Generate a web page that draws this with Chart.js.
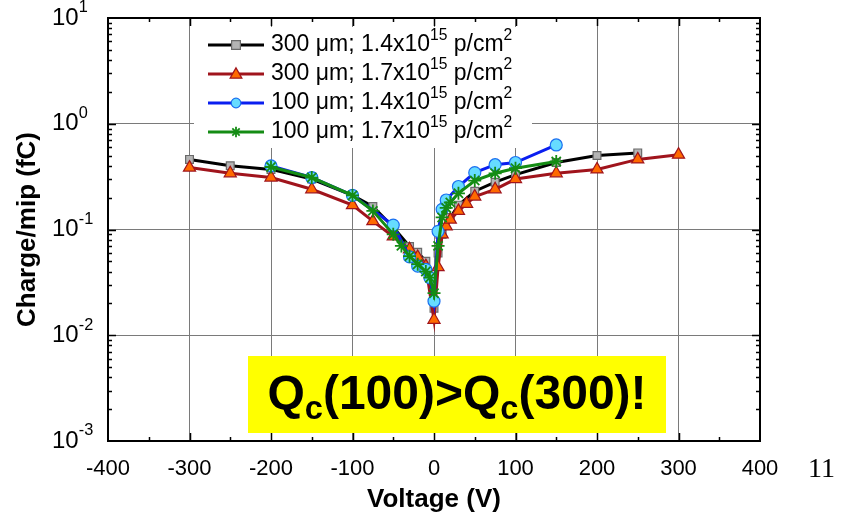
<!DOCTYPE html>
<html>
<head>
<meta charset="utf-8">
<script src="https://cdn.jsdelivr.net/npm/chart.js@4.4.1/dist/chart.umd.min.js"></script>
<style>
  html, body { margin: 0; padding: 0; background: #fff; }
  #wrap { width: 845px; height: 526px; position: relative; }
</style>
</head>
<body>
<div id="wrap"><canvas id="chart"></canvas></div>
<script>
// Charge per mip vs bias voltage
const thickness = [300, 300, 100, 100];
const fluence = ['1.4', '1.7', '1.4', '1.7'];
const seriesLabels = ['300 μm; 1.4x10¹⁵ p/cm²', '300 μm; 1.7x10¹⁵ p/cm²', '100 μm; 1.4x10¹⁵ p/cm²', '100 μm; 1.7x10¹⁵ p/cm²'];

const vBlack = [-300, -250, -200, -150, -100, -75, -50, -30, -20, -10, 0, 5, 10, 20, 30, 50, 75, 100, 150, 200, 250];
const qBlack = [0.46, 0.40, 0.37, 0.30, 0.21, 0.165, 0.105, 0.069, 0.061, 0.05, 0.018, 0.06, 0.09, 0.13, 0.17, 0.23, 0.28, 0.33, 0.43, 0.50, 0.53];

const vRed = [-300, -250, -200, -150, -100, -75, -50, -30, -20, -10, 0, 5, 10, 15, 20, 30, 40, 50, 75, 100, 150, 200, 250, 300];
const qRed = [0.385, 0.34, 0.31, 0.24, 0.17, 0.12, 0.086, 0.065, 0.055, 0.045, 0.014, 0.044, 0.09, 0.107, 0.124, 0.15, 0.175, 0.205, 0.24, 0.30, 0.34, 0.37, 0.46, 0.51];

const vBlue = [-200, -150, -100, -50, -30, -20, -10, -5, 0, 5, 10, 15, 30, 50, 75, 100, 150];
const qBlue = [0.40, 0.31, 0.21, 0.11, 0.055, 0.045, 0.042, 0.035, 0.021, 0.096, 0.155, 0.19, 0.255, 0.345, 0.41, 0.43, 0.63];

const vGreen = [-200, -150, -100, -75, -50, -40, -30, -20, -10, -5, 0, 5, 10, 15, 20, 30, 50, 75, 100, 150];
const qGreen = [0.39, 0.31, 0.21, 0.15, 0.09, 0.07, 0.056, 0.047, 0.04, 0.035, 0.025, 0.07, 0.13, 0.16, 0.18, 0.22, 0.29, 0.34, 0.38, 0.44];

const xTicks = [-400, -300, -200, -100, 0, 100, 200, 300, 400];
const yTicks = [0.001, 0.01, 0.1, 1, 10];
const yTickExp = ['-3', '-2', '-1', '0', '1'];

const FONT = "'Liberation Sans', Arial, Helvetica, sans-serif";

function pts(vs, qs) {
    return vs.map(function(v, i) { return { x: v, y: qs[i] }; });
}

const styles = [
    { line: '#000000', fill: '#b4b4b4', edge: '#6a6a6a', shape: 'rect', r: 5.5 },
    { line: '#a0141c', fill: '#ff6a00', edge: '#a0141c', shape: 'triangle', r: 7 },
    { line: '#0a1ef0', fill: '#66dcff', edge: '#1a6ff0', shape: 'circle', r: 6 },
    { line: '#148c14', fill: '#148c14', edge: '#148c14', shape: 'star', r: 6.5 }
];
const seriesData = [pts(vBlack, qBlack), pts(vRed, qRed), pts(vBlue, qBlue), pts(vGreen, qGreen)];
const drawOrder = [4, 3, 2, 1];

// draw text with sup/sub parts, returns end x
function richText(ctx, parts, x, y, size, bold) {
    const w = bold ? 'bold ' : '';
    parts.forEach(function(p) {
        let s = size, dy = 0;
        if (p[1] === 'sup') { s = size * 0.68; dy = -size * 0.42; }
        if (p[1] === 'sub') { s = size * 0.68; dy = size * 0.3; }
        ctx.font = w + s + 'px ' + FONT;
        ctx.fillText(p[0], x, y + dy);
        x += ctx.measureText(p[0]).width;
    });
    return x;
}

function marker(ctx, shape, x, y, r, fill, edge) {
    ctx.save();
    ctx.fillStyle = fill;
    ctx.strokeStyle = edge;
    ctx.lineWidth = 1.2;
    ctx.beginPath();
    if (shape === 'rect') {
        ctx.rect(x - r, y - r, 2 * r, 2 * r);
        ctx.fill(); ctx.stroke();
    } else if (shape === 'triangle') {
        ctx.moveTo(x, y - r * 1.1);
        ctx.lineTo(x + r * 1.05, y + r * 0.75);
        ctx.lineTo(x - r * 1.05, y + r * 0.75);
        ctx.closePath();
        ctx.fill(); ctx.stroke();
    } else if (shape === 'circle') {
        ctx.arc(x, y, r, 0, Math.PI * 2);
        ctx.fill(); ctx.stroke();
    } else {
        ctx.lineWidth = 1.8;
        for (let a = 0; a < 4; a++) {
            const t = a * Math.PI / 4;
            ctx.moveTo(x - r * Math.cos(t), y - r * Math.sin(t));
            ctx.lineTo(x + r * Math.cos(t), y + r * Math.sin(t));
        }
        ctx.stroke();
    }
    ctx.restore();
}

const decorPlugin = {
    id: 'decor',
    afterDatasetsDraw: function(chart) {
        const ctx = chart.ctx;
        ctx.save();
        // legend box
        ctx.fillStyle = '#fff';
        ctx.fillRect(194, 27, 338, 121);
        const rowY = [45, 74, 103, 132];
        styles.forEach(function(st, i) {
            const y = rowY[i];
            ctx.strokeStyle = st.line;
            ctx.lineWidth = 3;
            ctx.beginPath();
            ctx.moveTo(208, y);
            ctx.lineTo(264, y);
            ctx.stroke();
            marker(ctx, st.shape, 236, y, st.r * 0.8, st.fill, st.edge);
            ctx.fillStyle = '#000';
            ctx.textBaseline = 'middle';
            ctx.textAlign = 'left';
            richText(ctx, [
                [thickness[i] + ' μm; ' + fluence[i] + 'x10', 'n'],
                ['15', 'sup'],
                [' p/cm', 'n'],
                ['2', 'sup']
            ], 271, y, 23, false);
        });
        // yellow note
        ctx.fillStyle = '#ffff00';
        ctx.fillRect(248, 356, 418, 77);
        ctx.fillStyle = '#000';
        ctx.textBaseline = 'middle';
        const parts = [['Q', 'n'], ['c', 'sub'], ['(100)>Q', 'n'], ['c', 'sub'], ['(300)!', 'n']];
        let tw = 0;
        parts.forEach(function(p) {
            ctx.font = 'bold ' + (p[1] === 'n' ? 48 : 48 * 0.68) + 'px ' + FONT;
            tw += ctx.measureText(p[0]).width;
        });
        richText(ctx, parts, 457 - tw / 2, 396, 48, true);
        ctx.restore();
    },
    afterDraw: function(chart) {
        const ctx = chart.ctx;
        const a = chart.chartArea;
        const xs = chart.scales.x, ys = chart.scales.y;
        ctx.save();
        ctx.strokeStyle = '#000';
        ctx.lineWidth = 1.5;
        ctx.beginPath();
        // x ticks every 50, inward from bottom and top
        for (let v = -350; v <= 350; v += 50) {
            const px = Math.round(xs.getPixelForValue(v)) + 0.5;
            const len = v % 100 === 0 ? 8 : 4;
            ctx.moveTo(px, a.bottom); ctx.lineTo(px, a.bottom - len);
            ctx.moveTo(px, a.top); ctx.lineTo(px, a.top + len);
        }
        // y ticks: decades and minor 2..9
        for (let d = -3; d < 1; d++) {
            for (let m = 1; m < 10; m++) {
                if (d === -3 && m === 1) continue;
                const py = Math.round(ys.getPixelForValue(m * Math.pow(10, d))) + 0.5;
                const len = m === 1 ? 8 : 4;
                ctx.moveTo(a.left, py); ctx.lineTo(a.left + len, py);
                ctx.moveTo(a.right, py); ctx.lineTo(a.right - len, py);
            }
        }
        ctx.stroke();
        // frame
        ctx.lineWidth = 2;
        ctx.strokeRect(a.left, a.top, a.right - a.left, a.bottom - a.top);
        // y tick labels with exponents
        ctx.fillStyle = '#000';
        ctx.textBaseline = 'middle';
        ctx.textAlign = 'left';
        yTicks.forEach(function(v, i) {
            const py = ys.getPixelForValue(v);
            richText(ctx, [['10', 'n'], [yTickExp[i], 'sup']], 52, py, 24, false);
        });
        // slide number
        ctx.font = '28px "Liberation Serif", "Times New Roman", serif';
        ctx.fillText('11', 808, 470);
        ctx.restore();
    }
};

new Chart(document.getElementById('chart'), {
    type: 'line',
    data: {
        datasets: seriesData.map(function(d, i) {
            const st = styles[i];
            return {
                label: seriesLabels[i],
                data: d,
                order: drawOrder[i],
                borderColor: st.line,
                borderWidth: 3,
                backgroundColor: st.fill,
                pointBackgroundColor: st.fill,
                pointBorderColor: st.edge,
                pointBorderWidth: st.shape === 'star' ? 1.8 : 1.2,
                pointStyle: st.shape,
                pointRadius: st.r,
                fill: false,
                tension: 0
            };
        })
    },
    options: {
        responsive: true,
        maintainAspectRatio: false,
        animation: false,
        layout: { padding: { top: 18, right: 85, left: 0, bottom: 0 } },
        plugins: {
            legend: { display: false },
            tooltip: { enabled: false }
        },
        scales: {
            x: {
                type: 'linear',
                min: -400,
                max: 400,
                afterBuildTicks: function(s) { s.ticks = xTicks.map(function(v) { return { value: v }; }); },
                ticks: { color: '#000', font: { family: FONT, size: 22 }, padding: 15, maxRotation: 0 },
                grid: { color: '#7a7a7a', lineWidth: 1, drawTicks: false },
                border: { display: false },
                title: { display: true, text: 'Voltage (V)', color: '#000', font: { family: FONT, size: 26, weight: 'bold' }, padding: { top: 0, bottom: 11 } },
                afterFit: function(s) { s.height = 85; }
            },
            y: {
                type: 'logarithmic',
                min: 0.001,
                max: 10,
                afterBuildTicks: function(s) { s.ticks = yTicks.map(function(v) { return { value: v }; }); },
                ticks: { display: false },
                grid: { color: '#7a7a7a', lineWidth: 1, drawTicks: false },
                border: { display: false },
                title: { display: true, text: 'Charge/mip (fC)', color: '#000', font: { family: FONT, size: 26, weight: 'bold' }, padding: { top: 12, bottom: 0 } },
                afterFit: function(s) { s.width = 108; }
            }
        }
    },
    plugins: [decorPlugin]
});
</script>
</body>
</html>
